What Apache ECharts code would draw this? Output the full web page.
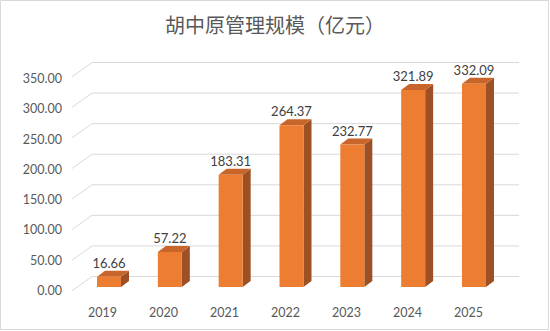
<!DOCTYPE html>
<html>
<head>
<meta charset="utf-8">
<script src="https://cdn.jsdelivr.net/npm/echarts@6/dist/echarts.min.js"></script>
<style>
html,body{margin:0;padding:0;background:#fff;}
#c{width:550px;height:331px;}
</style>
</head>
<body>
<div id="c"></div>
<script>
var categories = ['2019', '2020', '2021', '2022', '2023', '2024', '2025'];
var values = [16.66, 57.22, 183.31, 264.37, 232.77, 321.89, 332.09];
var valueLabels = ['16.66', '57.22', '183.31', '264.37', '232.77', '321.89', '332.09'];
var yTicks = [0, 50, 100, 150, 200, 250, 300, 350];
var title = '胡中原管理规模（亿元）';

var chart = echarts.init(document.getElementById('c'), null, {renderer: 'svg'});

var FRONT = '#ED7D31', TOP = '#C7652B', SIDE = '#9C5024';
var DX = 8, DY = 6, HALF = 12;

var option = {
  animation: false,
  backgroundColor: '#fff',
  title: {
    text: title,
    left: 'center',
    top: 9,
    textStyle: {fontFamily: 'Noto Sans CJK SC', fontSize: 20, fontWeight: 'normal', color: '#595959'}
  },
  graphic: [{
    type: 'rect',
    shape: {x: 0.5, y: 0.5, width: 548, height: 329},
    style: {fill: 'none', stroke: '#d9d9d9', lineWidth: 1},
    silent: true
  }],
  grid: [
    {left: 78.6, right: 45.6, top: 72.8, bottom: 44},
    {left: 92, right: 31, top: 62.5, bottom: 54.5},
    {left: 72, right: 51, top: 78.5, bottom: 40.5}
  ],
  xAxis: [
    {gridIndex: 0, type: 'category', data: categories, show: false},
    {gridIndex: 1, type: 'value', min: 0, max: 1, show: false},
    {gridIndex: 2, type: 'category', data: categories,
      axisLine: {show: false}, axisTick: {show: false},
      axisLabel: {margin: 15, fontFamily: 'Lato', fontSize: 12.5, color: '#595959'}}
  ],
  yAxis: [
    {gridIndex: 0, type: 'value', min: 0, max: 350, interval: 50, show: false},
    {gridIndex: 1, type: 'value', min: 0, max: 350, interval: 50, show: false},
    {gridIndex: 2, type: 'value', min: 0, max: 350, interval: 50,
      axisLine: {show: false}, axisTick: {show: false}, splitLine: {show: false},
      axisLabel: {margin: 10, fontFamily: 'Lato', fontSize: 12.5, color: '#595959',
        formatter: function (v) { return v.toFixed(2); }}}
  ],
  series: [
    {
      type: 'custom',
      xAxisIndex: 1, yAxisIndex: 1,
      data: yTicks.map(function (v) { return [0, v]; }),
      silent: true,
      renderItem: function (params, api) {
        var v = api.value(1);
        var bl = api.coord([0, v]);
        var br = api.coord([1, v]);
        return {
          type: 'polyline',
          shape: {points: [[bl[0] - 20, bl[1] + 14.2], bl, br]},
          style: {stroke: '#d9d9d9', lineWidth: 1, fill: 'none'}
        };
      }
    },
    {
      type: 'custom',
      xAxisIndex: 0, yAxisIndex: 0,
      data: values.map(function (v, i) { return [i, v]; }),
      renderItem: function (params, api) {
        var i = api.value(0);
        var top = api.coord([i, api.value(1)]);
        var base = api.coord([i, 0]);
        var c = top[0];
        var l = c - HALF, r = c + HALF;
        return {
          type: 'group',
          children: [
            {type: 'polygon', shape: {points: [[r, top[1]], [r + DX, top[1] - DY], [r + DX, base[1] - DY], [r, base[1]]]},
              style: {fill: SIDE}},
            {type: 'polygon', shape: {points: [[l, top[1]], [r, top[1]], [r + DX, top[1] - DY], [l + DX, top[1] - DY]]},
              style: {fill: TOP}},
            {type: 'rect', shape: {x: l, y: top[1], width: r - l, height: base[1] - top[1]},
              style: {fill: FRONT}},
            {type: 'text', x: c, y: top[1] - DY - 8,
              style: {text: valueLabels[params.dataIndex], align: 'center', verticalAlign: 'middle',
                fontFamily: 'Lato', fontSize: 13, fill: '#404040'}}
          ]
        };
      }
    },
    {
      type: 'bar', xAxisIndex: 2, yAxisIndex: 2, data: [], silent: true
    }
  ]
};
chart.setOption(option);
</script>
</body>
</html>
